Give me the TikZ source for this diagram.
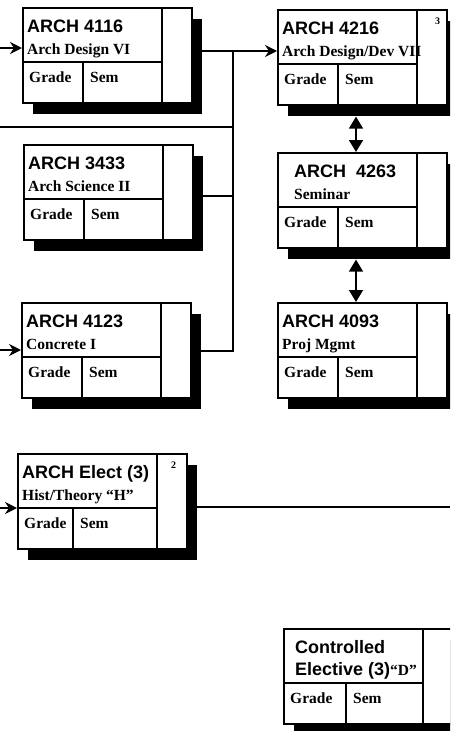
\documentclass[tikz,border=0pt]{standalone}
\usepackage{fontspec}
\setmainfont{Liberation Serif}
\newfontfamily\headfont{Liberation Sans}
\usepackage{tikz}
\usetikzlibrary{calc}
\usetikzlibrary{shadows}
\usetikzlibrary{arrows.meta}
\usetikzlibrary{positioning}
\tikzset{
	coursebox/.style={draw, line width=1.6pt, fill=white, anchor=north west, inner sep=0pt, minimum width=169pt, minimum height=95pt,
		drop shadow={shadow xshift=10pt, shadow yshift=-11pt, fill=black, opacity=1}},
	cell/.style={line width=1.6pt},
	titletext/.style={anchor=base west, inner sep=0pt, font=\headfont\bfseries\fontsize{18}{20}\selectfont},
	subtext/.style={anchor=base west, inner sep=0pt, font=\bfseries\fontsize{15.5}{17}\selectfont},
	credit/.style={anchor=base, inner sep=0pt, font=\bfseries\fontsize{10}{12}\selectfont},
	link/.style={line width=1.6pt},
	flow/.style={link, -{Stealth[length=12pt,width=12pt,inset=4pt]}},
	both/.style={link, {Triangle[length=12pt,width=14pt]}-{Triangle[length=12pt,width=14pt]}},
}
\newcommand{\gradecol}{61}
\newcommand{\course}[5][5]{%
	\node[coursebox] (#2) at (#3) {};
	\draw[cell] ($(#2.north west)+(140,0)$) -- ($(#2.south west)+(140,0)$);
	\draw[cell] ($(#2.north west)+(0,55)$) -- ($(#2.north west)+(140,55)$);
	\draw[cell] ($(#2.north west)+(\gradecol,55)$) -- ($(#2.south west)+(\gradecol,0)$);
	\node[titletext] (#2-title) at ($(#2.north west)+(#1,25)$) {#4};
	\node[subtext] (#2-sub) at ($(#2.north west)+(#1,47)$) {#5};
	\node[subtext] (#2-grade) at ($(#2.north west)+(7,75)$) {Grade};
	\node[subtext] (#2-sem) at ($(#2.north west)+(\gradecol+7,75)$) {Sem};
}
\begin{document}
\begin{tikzpicture}[x=1pt, y=-1pt]
	\useasboundingbox (0,0) rectangle (450,731);
	\clip (0,0) rectangle (450,731);
	\course{c4116}{22,7}{ARCH 4116}{Arch Design VI}
	\course{c4216}{277,9}{ARCH 4216}{Arch Design/Dev VII}
	\course{c3433}{23,144}{ARCH 3433}{Arch Science II}
	\course[17]{c4263}{277,152}{ARCH\ \ 4263}{Seminar}
	\course{c4123}{21,302}{ARCH 4123}{Concrete I}
	\course{c4093}{277,302}{ARCH 4093}{Proj Mgmt}
	\renewcommand{\gradecol}{56}
	\course{celect}{17,453}{ARCH Elect (3)}{Hist/Theory “H”}
	\renewcommand{\gradecol}{63}
	\course[12]{cctrl}{283,628}{Controlled}{{\headfont\fontsize{18}{20}\selectfont Elective (3)}“D”}
	\node[credit] (c4216-credit) at ($(c4216.north east)+(-10,15)$) {3};
	\node[credit] (celect-credit) at ($(celect.north east)+(-14,15)$) {2};

	\coordinate (spine) at (233,0);
	\coordinate (rightedge) at (450,0);
	\coordinate (in4116) at (0,48);
	\coordinate (in3433) at (0,127);
	\coordinate (in4123) at (0,350);
	\coordinate (inelect) at (0,508);
	\coordinate (out4116) at ($(c4116.north east)+(0,44)$);
	\coordinate (out3433) at ($(c3433.north east)+(0,52)$);
	\coordinate (out4123) at ($(c4123.north east)+(0,49)$);
	\coordinate (outelect) at ($(celect.north east)+(0,54)$);

	\draw[flow] (in4116) -- (in4116 -| c4116.west);
	\draw[flow] (out4116) -- (out4116 -| c4216.west);
	\draw[link] (in3433) -- (in3433 -| spine);
	\draw[link] (out3433) -- (out3433 -| spine);
	\draw[link] (out4123) -- (out4123 -| spine) -- (out4116 -| spine);
	\draw[flow] (in4123) -- (in4123 -| c4123.west);
	\draw[both] ($(c4216.south west)+(79,11)$) -- ($(c4263.north west)+(79,0)$);
	\draw[both] ($(c4263.south west)+(79,11)$) -- ($(c4093.north west)+(79,0)$);
	\draw[flow] (inelect) -- (inelect -| celect.west);
	\draw[link] (outelect) -- (outelect -| rightedge);
\end{tikzpicture}
\end{document}
